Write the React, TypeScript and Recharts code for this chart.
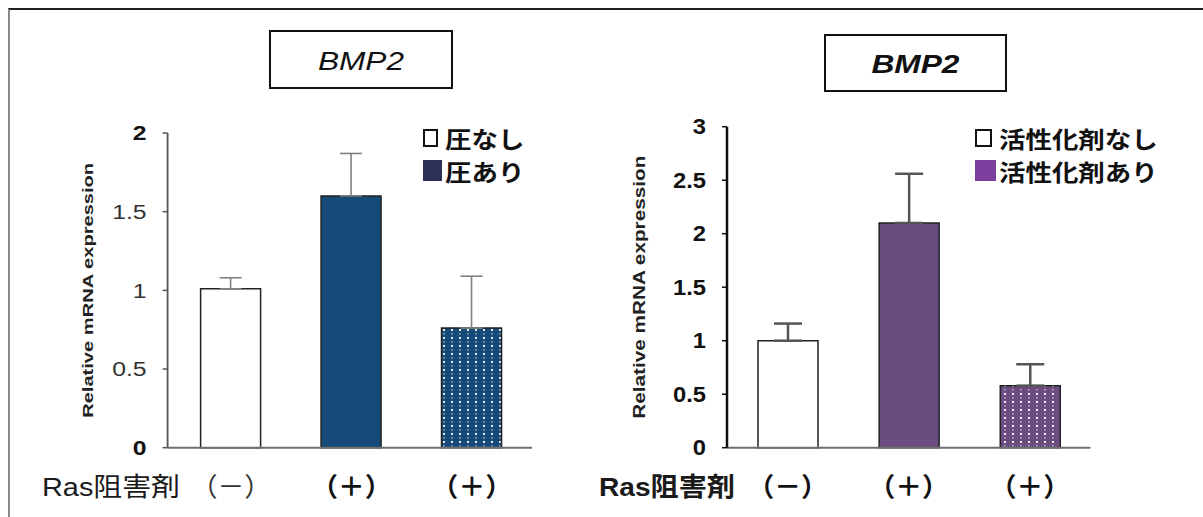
import React from "react";
import { Bar, BarChart, Cell, ErrorBar, Legend, XAxis, YAxis } from "recharts";

const FONT = "'Liberation Sans', Arial, 'Noto Sans CJK JP', sans-serif";

const groups = ["（－）", "（＋）", "（＋）"];
const xCaption = "Ras阻害剤";
const yCaption = "Relative mRNA expression";
const title = "BMP2";

const pressureValues = [1.01, 1.6, 0.76];
const pressureErrors = [0.07, 0.27, 0.33];
const pressureTicks = [0, 0.5, 1, 1.5, 2];
const pressureLegend = ["圧なし", "圧あり"];

const activatorValues = [1.0, 2.1, 0.58];
const activatorErrors = [0.16, 0.46, 0.2];
const activatorTicks = [0, 0.5, 1, 1.5, 2, 2.5, 3];
const activatorLegend = ["活性化剤なし", "活性化剤あり"];

// text in the source is drawn wider than normal, so stretch it sideways
function Stretch({ x, y, sx, anchor, children, ...rest }: any) {
  return (
    <g transform={`translate(${x},${y}) scale(${sx},1)`}>
      <text x={0} y={0} textAnchor={anchor} dominantBaseline="central" {...rest}>
        {children}
      </text>
    </g>
  );
}

function YCaption({ viewBox, cx, size, length }: any) {
  const vb = viewBox || { x: 0, y: 0, height: 0 };
  const x = vb.x + cx;
  const y = vb.y + vb.height / 2;
  return (
    <text
      x={x}
      y={y}
      transform={`rotate(-90 ${x} ${y})`}
      textAnchor="middle"
      dominantBaseline="central"
      fontSize={size}
      fontWeight="bold"
      fill="#222"
      textLength={length}
      lengthAdjust="spacingAndGlyphs"
      style={{ fontFamily: FONT }}
    >
      {yCaption}
    </text>
  );
}

function XCaption({ viewBox, dx, bold, length }: any) {
  const vb = viewBox || { x: 0, y: 0 };
  return (
    <text
      x={vb.x + dx}
      y={vb.y + 39}
      dominantBaseline="central"
      fontSize={26}
      fontWeight={bold ? "bold" : "normal"}
      fill="#1a1a1a"
      textLength={length}
      lengthAdjust="spacingAndGlyphs"
      style={{ fontFamily: FONT }}
    >
      {xCaption}
    </text>
  );
}

function TitleBox({ left, top, width, height, bold, textWidth }: any) {
  return (
    <svg style={{ position: "absolute", left, top }} width={width} height={height}>
      <rect x={1} y={1} width={width - 2} height={height - 2} fill="#fff" stroke="#111" strokeWidth={2} />
      <text
        x={width / 2}
        y={height / 2 + 1}
        textAnchor="middle"
        dominantBaseline="central"
        fontSize={26}
        fontStyle="italic"
        fontWeight={bold ? "bold" : "normal"}
        fill="#111"
        textLength={textWidth}
        lengthAdjust="spacingAndGlyphs"
        style={{ fontFamily: FONT }}
      >
        {title}
      </text>
    </svg>
  );
}

function LegendRows({ labels, swatch, boxes }: any) {
  return (
    <div style={{ fontFamily: FONT }}>
      {labels.map((label: string, i: number) => (
        <div key={label} style={{ display: "flex", alignItems: "center", height: 33 }}>
          <span
            style={{
              display: "inline-block",
              boxSizing: "border-box",
              width: i === 0 ? boxes[0] : boxes[1],
              height: i === 0 ? 18 : 21,
              border: i === 0 ? "2.5px solid #111" : "none",
              background: i === 0 ? "#fff" : swatch,
              marginRight: i === 0 ? 7 : 3,
            }}
          />
          <span
            style={{
              display: "inline-block",
              fontSize: 23,
              fontWeight: 700,
              color: "#111",
              whiteSpace: "nowrap",
              transform: "scaleX(1.15)",
              transformOrigin: "left center",
            }}
          >
            {label}
          </span>
        </div>
      ))}
    </div>
  );
}

function Panel(p: any) {
  const data = groups.map((g, i) => ({ group: g, value: p.values[i], err: [0, p.errors[i]] }));
  const top = p.ticks[p.ticks.length - 1];

  const yTick = (t: any) => {
    const v = t.payload.value;
    const bold = p.boldAll || v === 0 || v === top;
    return (
      <Stretch
        x={t.x}
        y={t.y}
        sx={p.tickSx}
        anchor="end"
        fontSize={p.tickFont}
        fontWeight={bold ? "bold" : "normal"}
        fill={bold ? "#111" : "#333"}
        style={{ fontFamily: FONT }}
      >
        {String(v)}
      </Stretch>
    );
  };

  const xTick = (t: any) => {
    const bold = p.boldAll || t.index > 0;
    return (
      <Stretch
        x={t.x}
        y={t.y + 39}
        sx={1.03}
        anchor="middle"
        fontSize={26}
        fontWeight={bold ? "bold" : "normal"}
        fill={bold ? "#111" : "#333"}
        style={{ fontFamily: FONT }}
      >
        {groups[t.index]}
      </Stretch>
    );
  };

  return (
    <div style={{ position: "absolute", left: p.left, top: 0 }}>
      <BarChart width={p.width} height={517} data={data} margin={p.margin}>
        <defs>
          <pattern id={p.patternId} width={8} height={8} patternUnits="userSpaceOnUse">
            <rect width={8} height={8} fill={p.barColor} />
            <rect x={3} y={1} width={2} height={2} fill="#fff" opacity={0.9} />
            <rect x={3} y={5} width={1.5} height={1.5} fill="#fff" opacity={0.55} />
          </pattern>
        </defs>
        <XAxis
          dataKey="group"
          height={60}
          interval={0}
          tickLine={false}
          tickSize={0}
          tickMargin={0}
          padding={p.xPadding}
          axisLine={{ stroke: "#6f6f6f", strokeWidth: 2 }}
          tick={xTick}
          label={<XCaption dx={p.xCapDx} bold={p.boldAll} length={p.xCapLen} />}
        />
        <YAxis
          width={p.yWidth}
          domain={[0, top]}
          ticks={p.ticks}
          interval={0}
          tickSize={5}
          tickMargin={16}
          axisLine={{ stroke: p.yAxisColor, strokeWidth: p.yAxisWidth }}
          tickLine={{ stroke: p.yAxisColor, strokeWidth: 1.5 }}
          tick={yTick}
          label={<YCaption cx={p.yCapX} size={p.yCapSize} length={p.yCapLen} />}
        />
        <Legend
          layout="horizontal"
          verticalAlign="middle"
          align="center"
          wrapperStyle={{ left: p.legendLeft, top: 121, width: "auto", height: "auto" }}
          content={() => <LegendRows labels={p.legend} swatch={p.swatch} boxes={p.boxes} />}
        />
        <Bar dataKey="value" barSize={60} isAnimationActive={false} stroke="#222" strokeWidth={1.5}>
          {data.map((d, i) => (
            <Cell key={i} fill={i === 0 ? "#ffffff" : i === 1 ? p.barColor : `url(#${p.patternId})`} />
          ))}
          <ErrorBar
            dataKey="err"
            width={p.errCap}
            stroke={p.errColor}
            strokeWidth={p.errWidth}
            isAnimationActive={false}
          />
        </Bar>
      </BarChart>
    </div>
  );
}

export default function App() {
  return (
    <div
      style={{
        position: "fixed",
        left: 0,
        top: 0,
        width: 1203,
        height: 517,
        background: "#fff",
        overflow: "hidden",
        fontFamily: FONT,
      }}
    >
      <div
        style={{
          position: "absolute",
          left: 8,
          top: 8,
          width: 1195,
          height: 509,
          boxSizing: "border-box",
          borderTop: "2px solid #222",
          borderLeft: "2px solid #8a8a8a",
        }}
      />
      <Panel
        left={0}
        width={600}
        margin={{ top: 133, right: 68, bottom: 9.3, left: 0 }}
        yWidth={167.6}
        xPadding={{ left: 3, right: 0 }}
        values={pressureValues}
        errors={pressureErrors}
        ticks={pressureTicks}
        legend={pressureLegend}
        barColor="#164a79"
        swatch="#2d2f55"
        patternId="dotsBlue"
        boldAll={false}
        tickFont={21}
        tickSx={1.18}
        yAxisColor="#555"
        yAxisWidth={1.8}
        errColor="#808080"
        errWidth={1.6}
        errCap={11}
        yCapX={88}
        yCapSize={15}
        yCapLen={255}
        xCapDx={-125.6}
        xCapLen={138}
        legendLeft={423}
        boxes={[15, 19]}
      />
      <Panel
        left={585}
        width={618}
        margin={{ top: 126.7, right: 112.6, bottom: 9.3, left: 0 }}
        yWidth={142}
        xPadding={{ left: 0, right: 0 }}
        values={activatorValues}
        errors={activatorErrors}
        ticks={activatorTicks}
        legend={activatorLegend}
        barColor="#6a4c80"
        swatch="#7b3f9e"
        patternId="dotsPurple"
        boldAll={true}
        tickFont={22}
        tickSx={1.08}
        yAxisColor="#111"
        yAxisWidth={2.5}
        errColor="#555"
        errWidth={2.5}
        errCap={14}
        yCapX={55}
        yCapSize={17}
        yCapLen={263}
        xCapDx={-128}
        xCapLen={136}
        legendLeft={390}
        boxes={[17, 21]}
      />
      <TitleBox left={269} top={30} width={184} height={59} bold={false} textWidth={86} />
      <TitleBox left={824} top={34} width={183} height={58} bold={true} textWidth={88} />
    </div>
  );
}
